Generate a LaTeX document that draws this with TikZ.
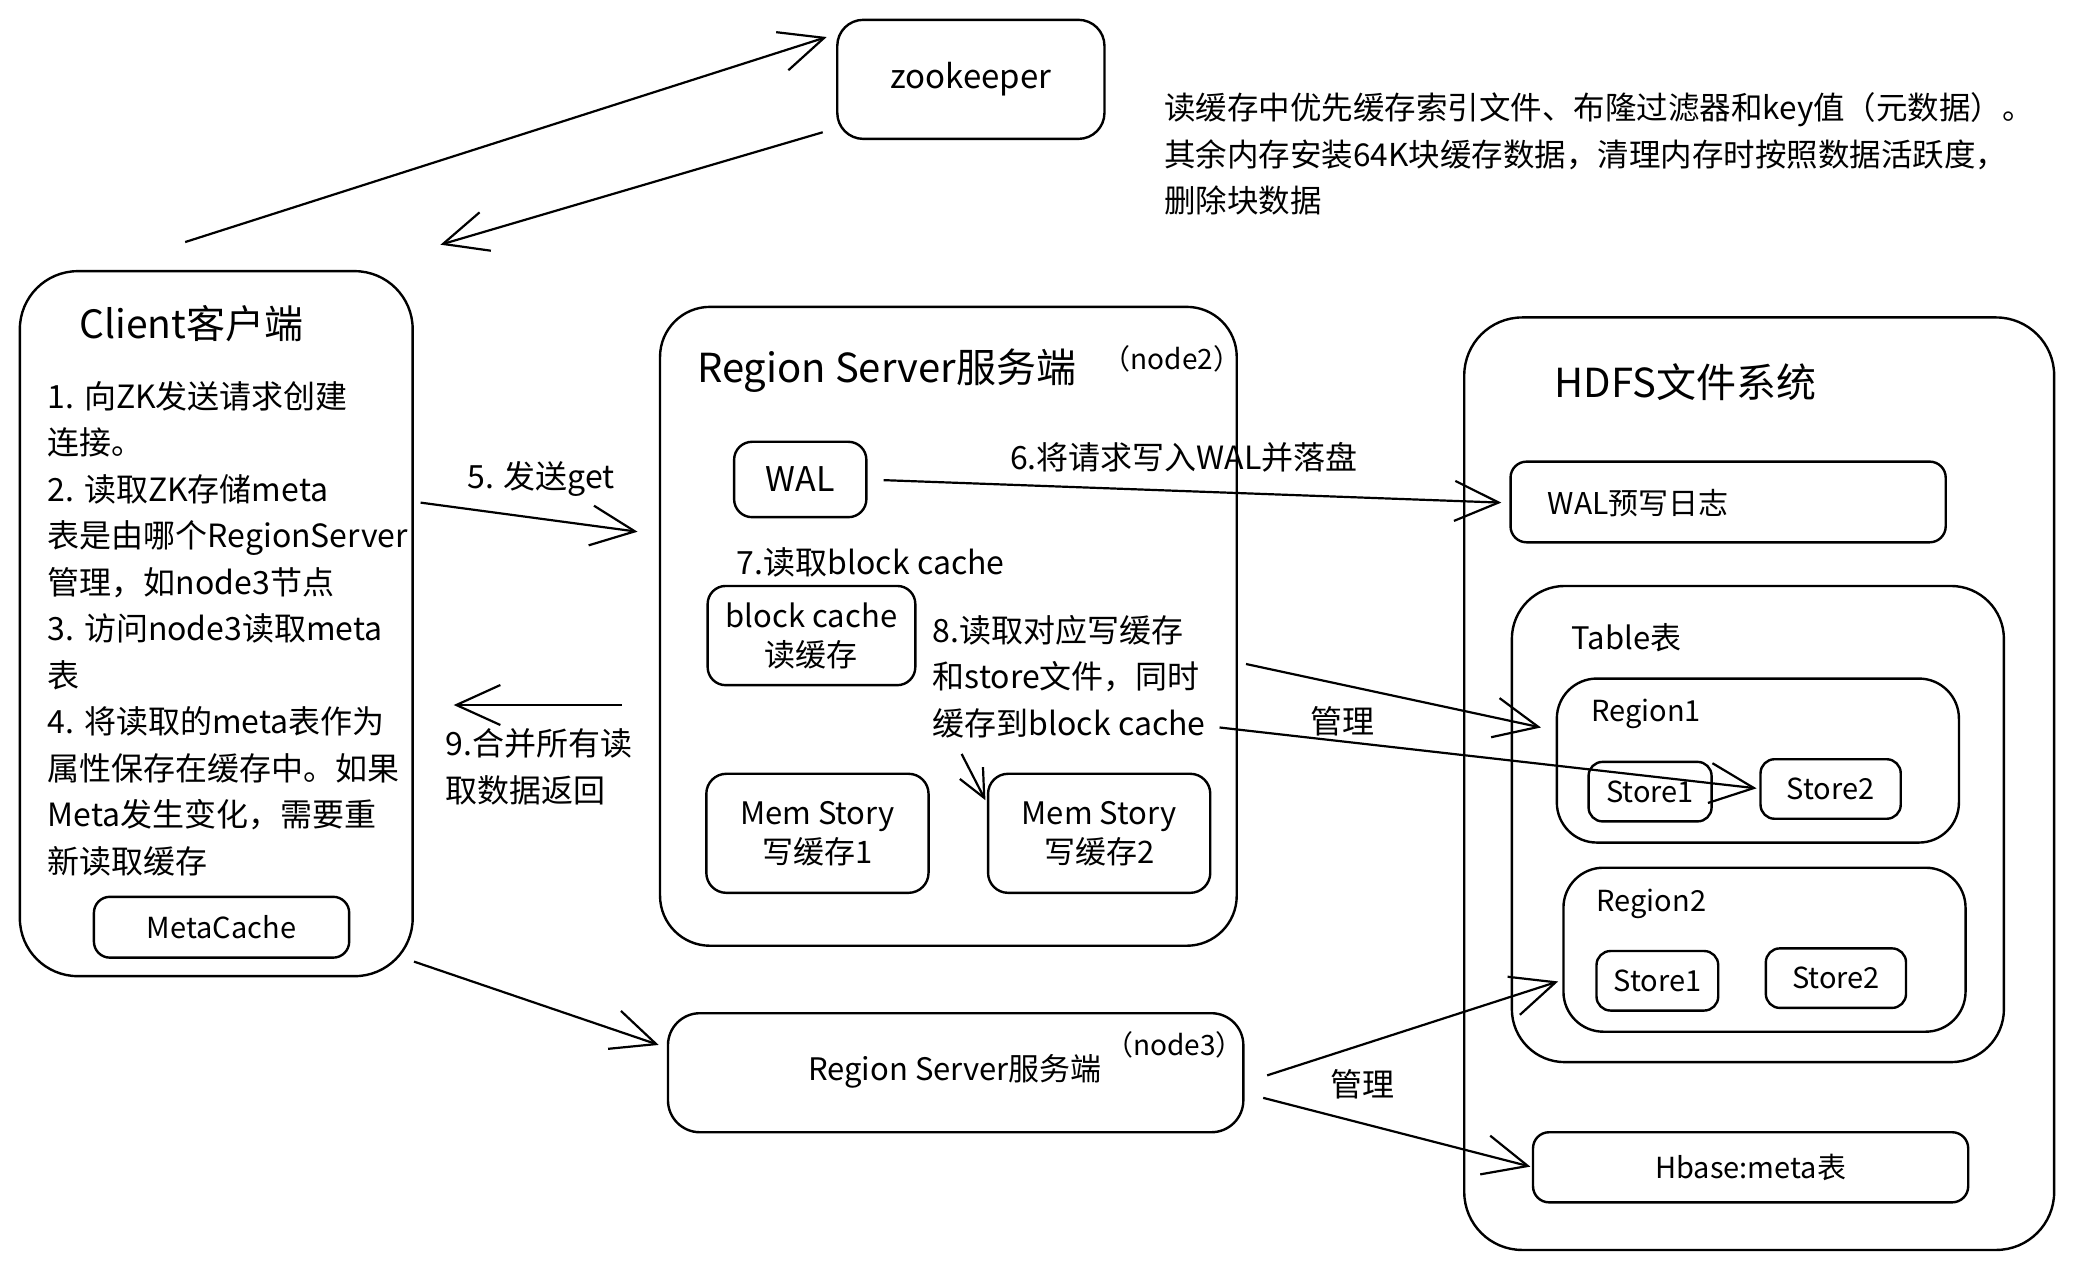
\documentclass[tikz,border=0pt]{standalone}
\usepackage{fontspec}
\setmainfont{Noto Sans CJK SC}
\usetikzlibrary{arrows.meta,fit}
\begin{document}
\begin{tikzpicture}[x=1.3227pt,y=-1.3227pt,
  box/.style={draw, line width=2.4pt, inner sep=0pt, rounded corners=#1},
  box/.default=18pt,
  arr/.style={line width=2.2pt, -{Straight Barb[length=44pt,width=40pt,line width=2.2pt]}},
  txt/.style={inner sep=0pt, font=\fontsize{32}{46.5}\selectfont},
  title/.style={inner sep=0pt, font=\fontsize{39}{46}\selectfont},
  small/.style={inner sep=0pt, font=\fontsize{28}{32}\selectfont},
  mid/.style={inner sep=0pt, font=\fontsize{29}{34}\selectfont},
  two/.style={inner sep=0pt, align=center, font=\fontsize{31}{39}\selectfont},
]
\useasboundingbox (0,0) rectangle (1568,960.2);

% zookeeper
\node[box=26pt, fit={(633,15)(835,105)}] (zk) {};
\node[inner sep=0pt, font=\fontsize{33}{40}\selectfont] (zkt) at (zk.center) {zookeeper};

% note
\node[txt, anchor=north west, align=left, font=\fontsize{31.5}{46.5}\selectfont] (note) at (880,70)
  {读缓存中优先缓存索引文件、布隆过滤器和key值（元数据）。\\其余内存安装64K块缓存数据，清理内存时按照数据活跃度，\\删除块数据};

% client
\node[box=58pt, fit={(15,205)(312,738)}] (client) {};
\node[title, anchor=west] (clienttitle) at (60,245) {Client客户端};
\node[txt, anchor=north west, align=left] (steps) at (36,288)
  {1. 向ZK发送请求创建\\连接。\\2. 读取ZK存储meta\\表是由哪个RegionServer\\管理，如node3节点\\3. 访问node3读取meta\\表\\4. 将读取的meta表作为\\属性保存在缓存中。如果\\Meta发生变化，需要重\\新读取缓存};
\node[box=16pt, fit={(71,678)(264,724)}] (metacache) {};
\node[mid] (metacachet) at (metacache.center) {MetaCache};

% region server node2
\node[box=50pt, fit={(499,232)(935,715)}] (rs2) {};
\node[title, anchor=west, font=\fontsize{40}{46}\selectfont] (rs2title) at (527,280) {Region Server服务端};
\node[small] (rs2id) at (886,271) {（node2）};
\node[box=18pt, fit={(555,334)(655,391)}] (wal) {};
\node[inner sep=0pt, font=\fontsize{34}{40}\selectfont] (walt) at (wal.center) {WAL};
\node[txt, anchor=west] (step7) at (557,425) {7.读取block cache};
\node[box=18pt, fit={(535,443)(692,518)}] (bc) {};
\node[two] (bct) at (bc.center) {block cache\\读缓存};
\node[txt, anchor=north west, align=left] (step8) at (705,465) {8.读取对应写缓存\\和store文件，同时\\缓存到block cache};
\node[box=20pt, fit={(534,585)(702,675)}] (mem1) {};
\node[two] (mem1t) at (mem1.center) {Mem Story\\写缓存1};
\node[box=20pt, fit={(747,585)(915,675)}] (mem2) {};
\node[two] (mem2t) at (mem2.center) {Mem Story\\写缓存2};

% region server node3
\node[box=32pt, fit={(505,766)(940,856)}] (rs3) {};
\node[inner sep=0pt, font=\fontsize{31}{36}\selectfont] (rs3title) at (722,810) {Region Server服务端};
\node[small] (rs3id) at (888,790) {（node3）};

% HDFS
\node[box=58pt, fit={(1107,240)(1553,945)}] (hdfs) {};
\node[title, anchor=west, font=\fontsize{40}{46}\selectfont] (hdfstitle) at (1175,289) {HDFS文件系统};
\node[box=16pt, fit={(1142,349)(1471,410)}] (wallog) {};
\node[inner sep=0pt, font=\fontsize{30}{36}\selectfont, anchor=west] (wallogtext) at (1170,380) {WAL预写日志};
\node[box=53pt, fit={(1143,443)(1515,803)}] (table) {};
\node[inner sep=0pt, font=\fontsize{31}{36}\selectfont, anchor=west] (tabletitle) at (1188,482) {Table表};
\node[box=40pt, fit={(1177,513)(1481,637)}] (region1) {};
\node[mid, anchor=west] (region1title) at (1203,540) {Region1};
\node[box=14pt, fit={(1201,576)(1294,621)}] (s11) {};
\node[mid] (s11t) at (s11.center) {Store1};
\node[box=14pt, fit={(1331,574)(1437,619)}] (s12) {};
\node[mid] (s12t) at (s12.center) {Store2};
\node[box=40pt, fit={(1182,656)(1486,780)}] (region2) {};
\node[mid, anchor=west] (region2title) at (1207,683) {Region2};
\node[box=14pt, fit={(1207,719)(1299,764)}] (s21) {};
\node[mid] (s21t) at (s21.center) {Store1};
\node[box=14pt, fit={(1335,717)(1441,762)}] (s22) {};
\node[mid] (s22t) at (s22.center) {Store2};
\node[box=16pt, fit={(1159,856)(1488,909)}] (meta) {};
\node[mid] (metat) at (meta.center) {Hbase:meta表};

% labels
\node[txt] (l5) at (409,362) {5. 发送get};
\node[txt, anchor=north west, align=left] (l9) at (337,551) {9.合并所有读\\取数据返回};
\node[txt] (l6) at (895,346) {6.将请求写入WAL并落盘};
\node[txt] (m1) at (1015,545) {管理};
\node[txt] (m2) at (1030,820) {管理};

% connector end points
\coordinate (c2zs) at (140,183);  \coordinate (c2ze) at (625,28);
\coordinate (z2cs) at (622,100);  \coordinate (z2ce) at (333,185);
\coordinate (a5s) at (318,380);   \coordinate (a5e) at (482,402);
\coordinate (a9s) at (470,533);   \coordinate (a9e) at (343,533);
\coordinate (a6s) at (668,363);   \coordinate (a6e) at (1135,380);
\coordinate (a8s) at (942,502);   \coordinate (a8e) at (1165,550);
\coordinate (bcs) at (922,550);   \coordinate (bce) at (1328,596);
\coordinate (sms) at (727,570);   \coordinate (sme) at (745,605);
\coordinate (c3s) at (313,727);   \coordinate (c3e) at (498,790);
\coordinate (r2s) at (958,813);   \coordinate (r2e) at (1178,742);
\coordinate (mts) at (955,830);   \coordinate (mte) at (1157,882);

\draw[arr] (c2zs) -- (c2ze);
\draw[arr] (z2cs) -- (z2ce);
\draw[arr] (a5s) -- (a5e);
\draw[arr] (a9s) -- (a9e);
\draw[arr] (a6s) -- (a6e);
\draw[arr] (a8s) -- (a8e);
\draw[arr] (bcs) -- (bce);
\draw[line width=2.2pt, -{Straight Barb[length=28pt,width=26pt,line width=2.2pt]}] (sms) -- (sme);
\draw[arr] (c3s) -- (c3e);
\draw[arr] (r2s) -- (r2e);
\draw[arr] (mts) -- (mte);
\end{tikzpicture}
\end{document}
